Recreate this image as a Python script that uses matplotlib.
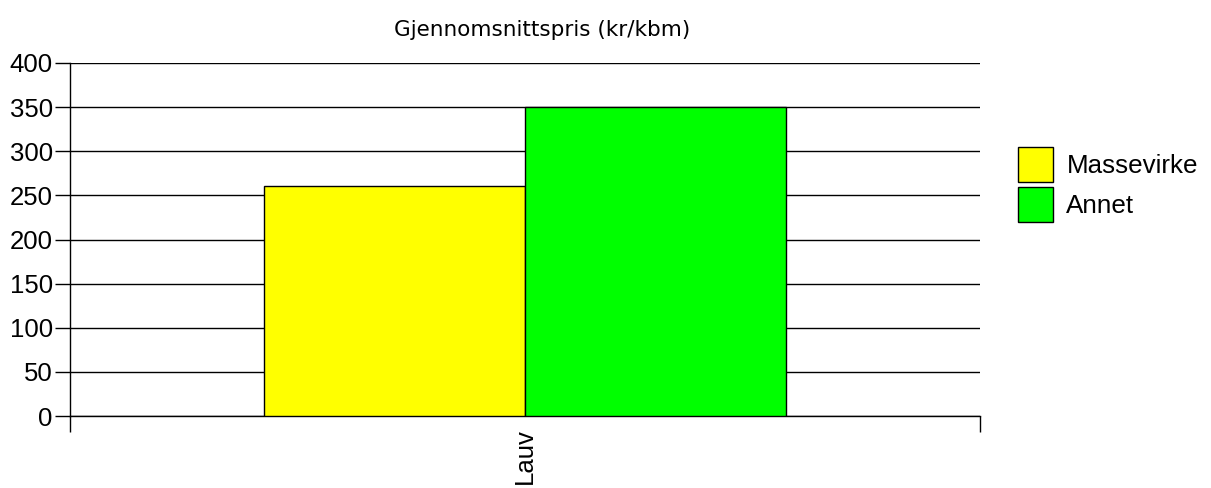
import matplotlib.pyplot as plt
from matplotlib.patches import Patch

categories = ["Lauv"]
series = ["Massevirke", "Annet"]
values = [261, 350]
colors = ["#ffff00", "#00ff00"]
yticks = [0, 50, 100, 150, 200, 250, 300, 350, 400]

W, H = 1211, 488
fig = plt.figure(figsize=(W / 100, H / 100), dpi=100)
ax = fig.add_axes([70 / W, (H - 416) / H, (980 - 70) / W, (416 - 63) / H])

bw = 0.287
for i, (name, v, c) in enumerate(zip(series, values, colors)):
    ax.bar(0.5 + (i - 0.5) * bw, v, width=bw, color=c, edgecolor="black", linewidth=1, zorder=3)

ax.set_xlim(0, 1)
ax.set_ylim(0, 400)
ax.set_yticks(yticks)
ax.set_yticklabels([str(t) for t in yticks], family="Liberation Sans", fontsize=18.5)
ax.yaxis.grid(True, color="black", linewidth=1, zorder=0)
ax.tick_params(axis="y", length=11, width=1, pad=1.5)

ax.set_xticks([0, 1])
ax.set_xticklabels(["", ""])
ax.tick_params(axis="x", which="major", length=11.5, width=1)
ax.set_xticks([0.5], minor=True)
ax.set_xticklabels(categories, minor=True, rotation=90, family="Liberation Sans", fontsize=18.5)
ax.tick_params(axis="x", which="minor", length=0, pad=9)

for s in ["top", "right"]:
    ax.spines[s].set_visible(False)
ax.spines["left"].set_linewidth(1)
ax.spines["bottom"].set_linewidth(1)

handles = [Patch(facecolor=c, edgecolor="black", label=n) for n, c in zip(series, colors)]
fig.legend(handles=handles, loc="upper left", bbox_to_anchor=(1008 / W, 1 - 137 / H),
           frameon=False, prop={"family": "Liberation Sans", "size": 18.7},
           handlelength=1.35, handleheight=1.69, handletextpad=0.5, labelspacing=0.2,
           borderaxespad=0)

fig.text(542 / W, 1 - 30 / H, "Gjennomsnittspris (kr/kbm)", ha="center", va="center",
         family="DejaVu Sans", fontsize=15.5)

fig.savefig("out.png", dpi=100)
